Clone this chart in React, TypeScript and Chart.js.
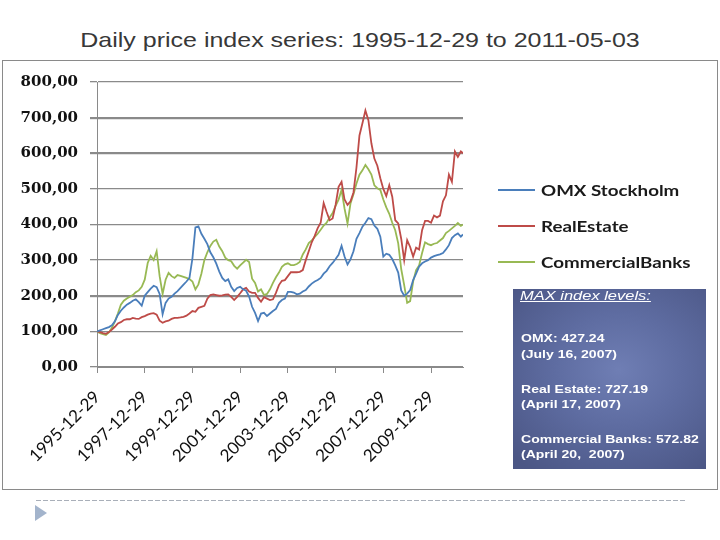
import React, { useEffect, useRef } from "react";
import { Chart, registerables } from "chart.js";

Chart.register(...registerables);

// Sampling dates (decimal years), every 1/8 year from 1995-12-29 to 2011-05-03
const dates = [
  1996, 1996.125, 1996.25, 1996.375, 1996.5, 1996.625, 1996.75, 1996.875,
  1997, 1997.125, 1997.25, 1997.375, 1997.5, 1997.625, 1997.75, 1997.875,
  1998, 1998.125, 1998.25, 1998.375, 1998.5, 1998.625, 1998.75, 1998.875,
  1999, 1999.125, 1999.25, 1999.375, 1999.5, 1999.625, 1999.75, 1999.875,
  2000, 2000.125, 2000.25, 2000.375, 2000.5, 2000.625, 2000.75, 2000.875,
  2001, 2001.125, 2001.25, 2001.375, 2001.5, 2001.625, 2001.75, 2001.875,
  2002, 2002.125, 2002.25, 2002.375, 2002.5, 2002.625, 2002.75, 2002.875,
  2003, 2003.125, 2003.25, 2003.375, 2003.5, 2003.625, 2003.75, 2003.875,
  2004, 2004.125, 2004.25, 2004.375, 2004.5, 2004.625, 2004.75, 2004.875,
  2005, 2005.125, 2005.25, 2005.375, 2005.5, 2005.625, 2005.75, 2005.875,
  2006, 2006.125, 2006.25, 2006.375, 2006.5, 2006.625, 2006.75, 2006.875,
  2007, 2007.125, 2007.25, 2007.375, 2007.5, 2007.625, 2007.75, 2007.875,
  2008, 2008.125, 2008.25, 2008.375, 2008.5, 2008.625, 2008.75, 2008.875,
  2009, 2009.125, 2009.25, 2009.375, 2009.5, 2009.625, 2009.75, 2009.875,
  2010, 2010.125, 2010.25, 2010.375, 2010.5, 2010.625, 2010.75, 2010.875,
  2011, 2011.125, 2011.25, 2011.34,
];

const omxStockholm = [
  100, 103, 106, 109, 112, 117, 128, 146,
  158, 167, 175, 180, 186, 190, 182, 172,
  200, 210, 220, 228, 224, 205, 148, 180,
  192, 197, 206, 213, 222, 231, 240, 250,
  305, 392, 395, 374, 360, 345, 322, 308,
  290, 268, 250, 241, 246, 225, 213, 222,
  225, 218, 214, 198, 169, 152, 129, 150,
  152, 143, 150, 157, 163, 180, 188, 192,
  211, 211, 209, 204, 206, 212, 216, 226,
  234, 240, 244, 250, 262, 270, 283, 292,
  303, 315, 340, 310, 288, 302, 325, 360,
  376, 394, 405, 418, 415, 397, 388, 366,
  310, 318, 315, 303, 285, 265, 215, 200,
  206, 216, 244, 262, 282, 291, 296, 300,
  307, 311, 314, 316, 320, 330, 342, 362,
  370, 375, 366, 372,
];

const realEstate = [
  100, 98, 95, 93, 98, 105, 113, 122,
  126, 132, 134, 134, 138, 136, 135, 140,
  143, 147, 150, 151, 147, 130, 124, 128,
  130, 135, 138, 138, 139, 141, 144, 150,
  157, 155, 166, 169, 172, 192, 202, 204,
  202, 200, 201, 203, 204, 197, 188, 197,
  207, 218, 222, 212, 208, 208, 194, 183,
  196, 192, 188, 190, 208, 230, 242, 244,
  255, 266, 266, 266, 267, 272, 300, 325,
  350, 368, 390, 405, 460, 435, 412, 417,
  455, 506, 520, 470, 455, 465, 490, 560,
  650, 684, 720, 693, 628, 585, 565, 530,
  500, 480, 510, 478, 412, 403, 360, 300,
  356, 337, 310, 335, 330, 384, 410, 410,
  405, 425, 420, 425, 465, 482, 540, 520,
  605, 590, 605, 600,
];

const commercialBanks = [
  100, 95, 92, 90, 97, 110, 128, 150,
  175, 186, 192, 197, 202, 210, 215, 225,
  245, 292, 312, 300, 325, 255, 205, 245,
  264, 255, 250, 258, 256, 253, 250, 247,
  240, 218, 232, 262, 300, 322, 340, 352,
  357, 338, 325, 307, 300, 297, 284, 276,
  285, 293, 301, 295, 248, 236, 212, 218,
  202, 205, 218, 236, 252, 265, 281, 288,
  291, 286, 286, 289, 295, 316, 330, 348,
  355, 365, 374, 385, 397, 405, 420, 432,
  452, 470, 497, 445, 403, 459, 485, 515,
  540, 552, 567, 555, 540, 510, 502, 497,
  470, 448, 430, 405, 384, 347, 275, 230,
  180, 185, 240, 272, 285, 320, 350, 345,
  342, 346, 348, 355, 362, 376, 382, 389,
  396, 404, 396, 400,
];

const seriesLabels = ["OMX Stockholm", "RealEstate", "CommercialBanks"];
const seriesColors = ["#4A7EBB", "#BE4B48", "#98B954"];

const tickYears = [1996, 1998, 2000, 2002, 2004, 2006, 2008, 2010];
const tickLabels = [
  "1995-12-29", "1997-12-29", "1999-12-29", "2001-12-29",
  "2003-12-29", "2005-12-29", "2007-12-29", "2009-12-29",
];

const titleText = "Daily price index series: 1995-12-29 to 2011-05-03";
const maxHeading = "MAX index levels:";
const maxLines = [
  "OMX: 427.24", "(July 16, 2007)",
  "Real Estate: 727.19", "(April 17, 2007)",
  "Commercial Banks: 572.82", "(April 20,  2007)",
];
const maxLineTops = [333, 348.5, 383.5, 398.5, 433.5, 449];
const heavyGridValues = [200, 600, 700];

const sideLegend = {
  id: "sideLegend",
  afterDraw(chart: any) {
    const { ctx, chartArea } = chart;
    chart.data.datasets.forEach((ds: any, i: number) => {
      const y = chartArea.top + 108 + 36 * i;
      const x0 = chartArea.right + 35;
      ctx.save();
      ctx.strokeStyle = ds.borderColor;
      ctx.lineWidth = 2;
      ctx.beginPath();
      ctx.moveTo(x0, y);
      ctx.lineTo(x0 + 37, y);
      ctx.stroke();
      ctx.translate(x0 + 43, y + 1);
      ctx.scale(1.25, 1);
      ctx.fillStyle = "#1a1a1a";
      ctx.font = "bold 15px Lato";
      ctx.textBaseline = "middle";
      ctx.textAlign = "left";
      ctx.fillText(ds.label, 0, 0);
      ctx.restore();
    });
  },
};

export default function App() {
  const canvasRef = useRef<HTMLCanvasElement | null>(null);

  useEffect(() => {
    if (!canvasRef.current) return;
    const seriesValues = [omxStockholm, realEstate, commercialBanks];
    const chart = new Chart(canvasRef.current, {
      type: "line",
      data: {
        datasets: seriesValues.map((vals, s) => ({
          label: seriesLabels[s],
          data: dates.map((d, i) => ({ x: d, y: vals[i] })),
          borderColor: seriesColors[s],
          backgroundColor: seriesColors[s],
          borderWidth: 1.8,
          pointRadius: 0,
          tension: 0,
          fill: false,
        })),
      },
      options: {
        animation: false,
        responsive: false,
        maintainAspectRatio: false,
        devicePixelRatio: 1,
        layout: { padding: { top: 21, right: 254, bottom: 0, left: 0 } },
        plugins: {
          legend: { display: false },
          tooltip: { enabled: false },
          title: { display: false },
        },
        scales: {
          x: {
            type: "linear",
            min: 1996,
            max: 2011.34,
            afterBuildTicks: (scale: any) => {
              scale.ticks = tickYears.map((v) => ({ value: v }));
            },
            afterFit: (scale: any) => {
              scale.height = 122;
            },
            ticks: {
              autoSkip: false,
              minRotation: 45,
              maxRotation: 45,
              padding: 14,
              color: "#111",
              font: { family: "Lato", size: 17 },
              callback: (value: any) => {
                const idx = tickYears.indexOf(Number(value));
                return idx >= 0 ? tickLabels[idx] : "";
              },
            },
            grid: {
              display: true,
              drawOnChartArea: false,
              drawTicks: true,
              tickLength: 6,
              color: "#8a8a8a",
            },
            border: { display: true, color: "#8a8a8a", width: 1 },
          },
          y: {
            min: 0,
            max: 800,
            afterFit: (scale: any) => {
              scale.width = 94;
            },
            ticks: {
              stepSize: 100,
              padding: 12,
              color: "#111",
              font: { family: "DejaVu Serif", size: 15, weight: "bold" },
              callback: (value: any) => Number(value).toFixed(2).replace(".", ","),
            },
            grid: {
              color: "#8a8a8a",
              lineWidth: (ctx: any) =>
                ctx.tick && heavyGridValues.includes(ctx.tick.value) ? 2.2 : 1.3,
              tickLength: 7,
              drawTicks: true,
            },
            border: { display: true, color: "#8a8a8a", width: 1 },
          },
        },
      },
      plugins: [sideLegend],
    });
    return () => chart.destroy();
  }, []);

  return (
    <div
      style={{
        position: "fixed",
        left: 0,
        top: 0,
        width: 720,
        height: 540,
        background: "#ffffff",
        overflow: "hidden",
        fontFamily: "'Liberation Sans', Arial, sans-serif",
      }}
    >
      <div
        style={{
          position: "absolute",
          left: 0,
          top: 29,
          width: 720,
          textAlign: "center",
          fontSize: 21,
          lineHeight: "21px",
          color: "#383838",
          transform: "scaleX(1.19)",
          transformOrigin: "center",
          whiteSpace: "nowrap",
        }}
      >
        {titleText}
      </div>

      <div
        style={{
          position: "absolute",
          left: 2,
          top: 60,
          width: 716,
          height: 430,
          boxSizing: "border-box",
          border: "1px solid #8a8a8a",
        }}
      />
      <canvas
        ref={canvasRef}
        width={714}
        height={428}
        style={{ position: "absolute", left: 3, top: 61, width: 714, height: 428 }}
      />

      <div
        style={{
          position: "absolute",
          left: 513,
          top: 289,
          width: 193,
          height: 180,
          background:
            "radial-gradient(ellipse 75% 70% at 55% 45%, #6f7eb4 0%, #5e6ca1 45%, #4b5685 100%)",
        }}
      />
      <div
        style={{
          position: "absolute",
          left: 520,
          top: 289,
          fontSize: 13.5,
          lineHeight: "13.5px",
          fontStyle: "italic",
          textDecoration: "underline",
          color: "#ffffff",
          whiteSpace: "nowrap",
          transform: "scaleX(1.22)",
          transformOrigin: "left",
        }}
      >
        {maxHeading}
      </div>
      {maxLines.map((line, i) => (
        <div
          key={i}
          style={{
            position: "absolute",
            left: 521,
            top: maxLineTops[i],
            fontSize: 11.5,
            lineHeight: "11.5px",
            fontWeight: "bold",
            color: "#ffffff",
            whiteSpace: "pre",
            transform: "scaleX(1.22)",
            transformOrigin: "left",
          }}
        >
          {line}
        </div>
      ))}

      <div
        style={{
          position: "absolute",
          left: 36,
          top: 500,
          width: 650,
          height: 1,
          background:
            "repeating-linear-gradient(to right, #a9afb9 0px, #a9afb9 5px, transparent 5px, transparent 7px)",
        }}
      />
      <div
        style={{
          position: "absolute",
          left: 35,
          top: 505,
          width: 0,
          height: 0,
          borderLeft: "12px solid #a3b4cc",
          borderTop: "8.5px solid transparent",
          borderBottom: "8.5px solid transparent",
        }}
      />
    </div>
  );
}
